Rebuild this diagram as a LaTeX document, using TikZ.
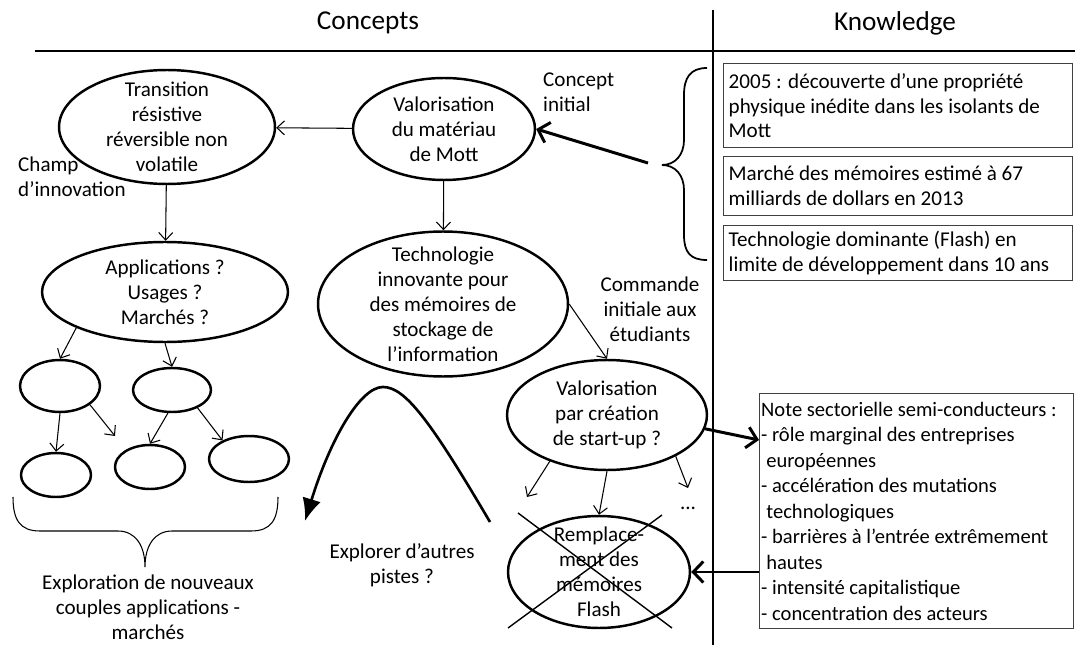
\documentclass[tikz,border=0pt]{standalone}
\usepackage{fontspec}
\setmainfont{Carlito}
\usetikzlibrary{shapes.geometric,arrows.meta}

\tikzset{
  bubble/.style={draw, ellipse, line width=1.4pt, inner sep=0pt},
  knbox/.style={draw=black!75, line width=0.8pt, rectangle, anchor=north west, align=flush left, inner xsep=0.1cm, inner ysep=0pt},
  thinarrow/.style={-{Straight Barb[length=0.15cm,width=0.28cm]}, line width=0.6pt},
  boldarrow/.style={-{Straight Barb[length=0.2cm,width=0.42cm]}, line width=1.7pt},
}

\begin{document}
\begin{tikzpicture}[x=0.02cm, y=-0.02cm, font=\fontsize{12}{14.2}\selectfont]
    \useasboundingbox (0,0) rectangle (1075,645);

    % headers
    \node (hconc) at (368,23) {\fontsize{15.5}{18}\selectfont Concepts};
    \node (hknow) at (895,23) {\fontsize{15.5}{18}\selectfont Knowledge};
    \draw[line width=1.6pt] (35,51) -- (1075,51);
    \draw[line width=1.2pt] (713,10) -- (713,645);

    % concepts
    \node[bubble, minimum width=4.32cm, minimum height=2.28cm, label={[align=center]center:Transition\\résistive\\réversible non\\volatile}] (trans) at (167,127) {};
    \node[bubble, minimum width=3.64cm, minimum height=2.04cm, label={[align=center]center:Valorisation\\du matériau\\de Mott}] (mott) at (444,129) {};
    \node[bubble, minimum width=5.0cm, minimum height=2.9cm, label={[align=center]center:Technologie\\innovante  pour\\des mémoires de\\stockage de\\l’information}] (techno) at (443,304) {};
    \node[bubble, minimum width=4.92cm, minimum height=2.0cm, label={[align=center]center:Applications ?\\Usages ?\\Marchés ?}] (appl) at (165,292) {};
    \node[bubble, minimum width=4.0cm, minimum height=2.2cm, label={[align=center]center:Valorisation\\par création\\de start-up ?}] (startup) at (607,415) {};
    \node[bubble, minimum width=3.64cm, minimum height=2.24cm, label={[align=center]center:Remplace-\\ment des\\mémoires\\Flash}] (repl) at (599,572) {};

    \node[bubble, minimum width=1.6cm, minimum height=1.04cm] (e1) at (60,386) {};
    \node[bubble, minimum width=1.56cm, minimum height=0.88cm] (e2) at (172,390) {};
    \node[bubble, minimum width=1.4cm, minimum height=0.88cm] (e3) at (56,475) {};
    \node[bubble, minimum width=1.4cm, minimum height=0.88cm] (e4) at (150,467) {};
    \node[bubble, minimum width=1.6cm, minimum height=0.92cm] (e5) at (249,459) {};

    \node[anchor=west, align=left] (champ) at (12,177) {Champ\\d’innovation};
    \node[anchor=west, align=left] (cinit) at (537,92) {Concept\\initial};
    \node[align=center] (cmd) at (650,309) {Commande\\initiale aux\\étudiants};
    \node[align=center] (explo) at (402,565) {Explorer d’autres\\pistes ?};
    \node[align=center] (couples) at (148,607) {Exploration de nouveaux\\couples applications -\\marchés};
    \node (dots) at (688,508) {...};

    \coordinate (e1out) at (115,436);
    \coordinate (s1out) at (527,497);
    \coordinate (s3out) at (688,488);
    \coordinate (bracetip) at (648,163);
    \coordinate (explstart) at (490,522);
    \coordinate (explend) at (305,521);

    \draw[thinarrow] (mott) -- (trans);
    \draw[thinarrow] (trans) -- (appl);
    \draw[thinarrow] (mott) -- (techno);
    \draw[thinarrow] (techno.east) -- (startup.north);
    \draw[thinarrow] (appl.202) -- (e1.north);
    \draw[thinarrow] (appl.south) -- (e2.north);
    \draw[thinarrow] (e1.south) -- (e3.north);
    \draw[thinarrow] (e1.-32) -- (e1out);
    \draw[thinarrow] (e2.260) -- (e4.north);
    \draw[thinarrow] (e2.-35) -- (e5.145);
    \draw[thinarrow] (startup.219) -- (s1out);
    \draw[thinarrow] (startup.south) -- (repl.north);
    \draw[thinarrow] (startup.-31) -- (s3out);

    % crossed out
    \draw[line width=0.8pt] (518,513) -- (672,628);
    \draw[line width=0.8pt] (662,515) -- (508,628);

    % explore other paths
    \draw[line width=1.5pt, -{Latex[length=0.45cm,width=0.38cm]}] (explstart) .. controls (430,420) and (405,387) .. (383,387) .. controls (360,387) and (330,440) .. (explend);

    % braces
    \draw[line width=0.6pt] (13,497) .. controls (13,520) and (20,531) .. (40,531) -- (118,531) .. controls (135,531) and (145,545) .. (145,567)
        .. controls (145,545) and (155,531) .. (172,531) -- (251,531) .. controls (271,531) and (278,520) .. (278,497);
    \draw[line width=1pt] (707,68) .. controls (690,68) and (684,78) .. (684,95) -- (684,140) .. controls (684,155) and (675,165) .. (662,165)
        .. controls (675,165) and (684,175) .. (684,190) -- (684,235) .. controls (684,252) and (690,260) .. (707,260);

    % knowledge
    \node[knbox, text width=6.78cm, minimum height=1.68cm] (k1) at (723,63) {2005 : découverte d’une propriété\\physique inédite dans les isolants de\\Mott};
    \node[knbox, text width=6.78cm, minimum height=1.18cm] (k2) at (723,156) {Marché des mémoires estimé à 67\\milliards de dollars en 2013};
    \node[knbox, text width=6.78cm, minimum height=1.1cm] (k3) at (723,225) {Technologie dominante (Flash) en\\limite de développement dans 10 ans};
    \node[knbox, inner xsep=0.03cm, text width=6.22cm, minimum height=4.7cm, font=\fontsize{11.7}{14.5}\selectfont] (note) at (759,393) {Note sectorielle semi-conducteurs :\\- rôle marginal des entreprises\\\hspace*{0.25em}européennes\\- accélération des mutations\\\hspace*{0.25em}technologiques\\- barrières à l’entrée extrêmement\\\hspace*{0.25em}hautes\\- intensité capitalistique\\- concentration des acteurs};

    \draw[boldarrow] (bracetip) -- (mott.east);
    \draw[boldarrow] (startup.352) -- ([yshift=-0.94cm]note.north west);
    \draw[boldarrow] (note.west |- repl.east) -- (repl.east);
\end{tikzpicture}
\end{document}
